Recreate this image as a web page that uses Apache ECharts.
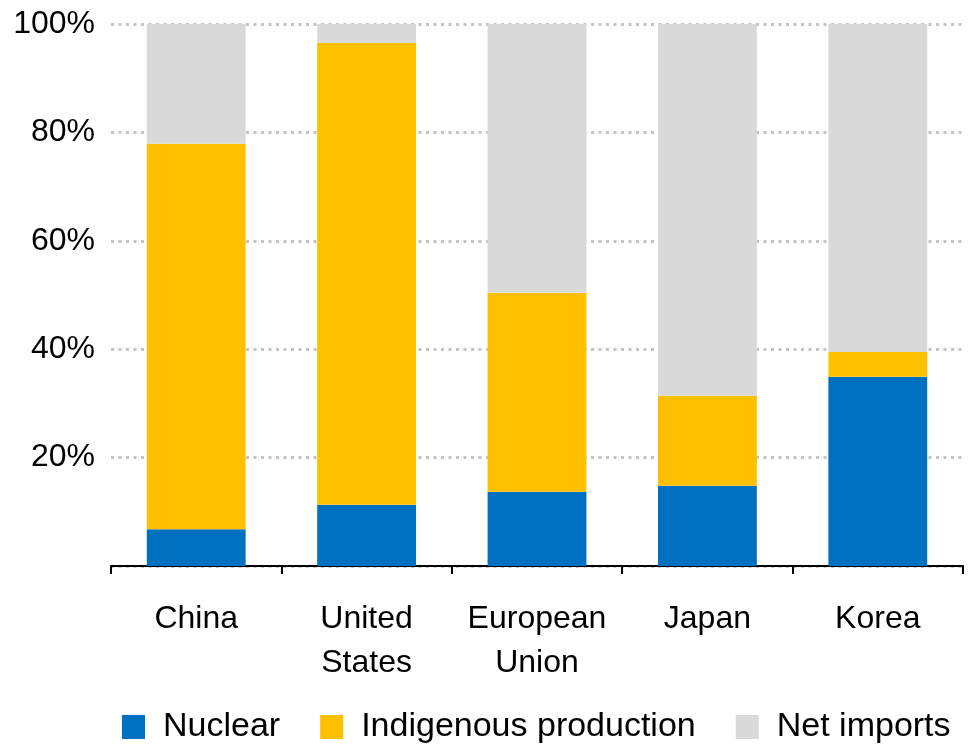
<!DOCTYPE html>
<html>
<head>
<meta charset="utf-8">
<script src="https://cdn.jsdelivr.net/npm/echarts@6/dist/echarts.min.js"></script>
<style>
  html, body { margin: 0; padding: 0; background: #fff; }
  #chart { width: 971px; height: 750px; }
</style>
</head>
<body>
<div id="chart"></div>
<script>
// Share of energy supply by source, per region (%)
const categories = ['China', 'United\nStates', 'European\nUnion', 'Japan', 'Korea'];
const nuclear = [6.8, 11.3, 13.7, 14.8, 34.9];
const indigenous = [71.1, 85.2, 36.7, 16.6, 4.6];
const netImports = [22.1, 3.5, 49.6, 68.6, 60.5];
const yTicks = { min: 0, max: 100, interval: 20 };

const FONT = '"Liberation Sans", Arial, sans-serif';

const chart = echarts.init(document.getElementById('chart'));
chart.setOption({
  animation: false,
  textStyle: { fontFamily: FONT, color: '#000' },
  grid: { left: 111, right: 8, top: 24, bottom: 184, containLabel: false },
  legend: {
    top: 710,
    left: 122,
    padding: 0,
    itemWidth: 23,
    itemHeight: 24,
    itemGap: 40,
    icon: 'rect',
    textStyle: { fontSize: 34, lineHeight: 24, color: '#000', fontFamily: FONT, padding: [0, 0, 0, 13] },
    data: ['Nuclear', 'Indigenous production', 'Net imports']
  },
  xAxis: {
    type: 'category',
    data: categories,
    axisLine: { lineStyle: { color: '#000', width: 2 } },
    axisTick: { show: true, interval: 0, length: 8, lineStyle: { color: '#000', width: 2 } },
    axisLabel: { interval: 0, fontSize: 32, color: '#000', margin: 31, lineHeight: 44, fontFamily: FONT }
  },
  yAxis: {
    type: 'value',
    min: yTicks.min,
    max: yTicks.max,
    interval: yTicks.interval,
    axisLine: { show: false },
    axisTick: { show: false },
    axisLabel: {
      fontSize: 32, color: '#000', margin: 16, fontFamily: FONT,
      formatter: v => (v === 0 ? '' : v + '%')
    },
    splitLine: {
      show: true,
      lineStyle: { color: '#c4c4c4', width: 3, type: [3, 4.5] }
    }
  },
  series: [
    { name: 'Nuclear', type: 'bar', stack: 'total', data: nuclear,
      itemStyle: { color: '#0070C0' }, barCategoryGap: '42%' },
    { name: 'Indigenous production', type: 'bar', stack: 'total', data: indigenous,
      itemStyle: { color: '#FFC000' } },
    { name: 'Net imports', type: 'bar', stack: 'total', data: netImports,
      itemStyle: { color: '#D9D9D9' } }
  ]
});
</script>
</body>
</html>
